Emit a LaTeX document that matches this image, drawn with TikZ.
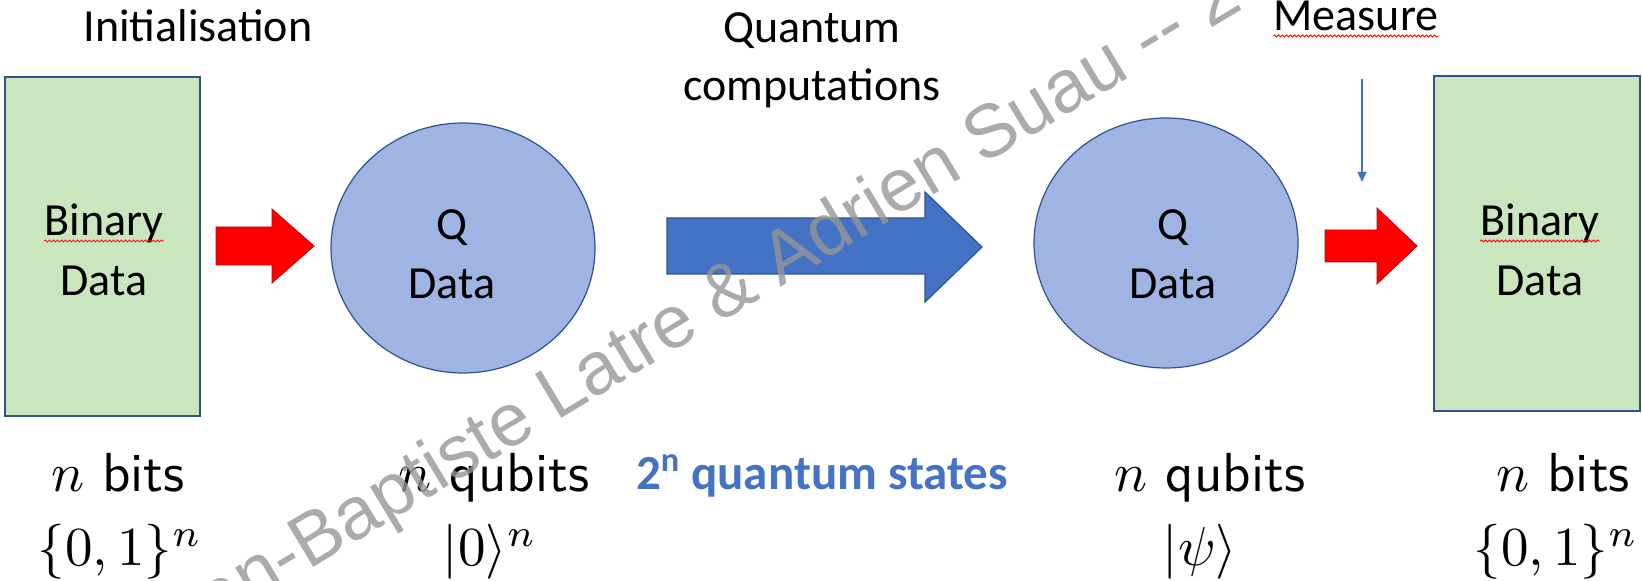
\documentclass[tikz,border=0pt]{standalone}
\usepackage{fontspec}
\newfontfamily\calfont{Carlito}
\newfontfamily\wmfont{Liberation Sans}
\usetikzlibrary{shapes.geometric,arrows.meta,decorations.pathmorphing}
\definecolor{gfill}{HTML}{C9E6BE}
\definecolor{edgeblue}{HTML}{2F528F}
\definecolor{cfill}{HTML}{9FB4E3}
\definecolor{officeblue}{HTML}{4472C4}
\definecolor{wmgray}{HTML}{969696}
\begin{document}
\begin{tikzpicture}[x=0.5pt,y=-0.5pt,
  gbox/.style={draw=edgeblue, fill=gfill, line width=0.6pt, rectangle, inner sep=0},
  qcirc/.style={draw=edgeblue, fill=cfill, line width=0.6pt, ellipse, inner sep=0, minimum width=132pt, minimum height=125pt},
  caltext/.style={font=\calfont\fontsize{23}{28}\selectfont, anchor=base, inner sep=0},
  bluelabel/.style={font=\calfont\bfseries\fontsize{24.5}{29}\selectfont, text=officeblue, anchor=base, inner sep=0},
  lmtext/.style={font=\sffamily, scale=2.75, anchor=base, inner sep=0},
  redarrow/.style={fill=red, draw=red!75!black, line width=0.4pt},
  bluearrow/.style={fill=officeblue, draw=edgeblue, line width=0.6pt},
  measarrow/.style={draw=officeblue, line width=0.6pt, -{Triangle[length=5pt,width=4.5pt]}},
  squig/.style={draw=red, line width=0.4pt, decorate, decoration={snake, amplitude=0.5pt, segment length=2pt}},
  wm/.style={font=\wmfont\fontsize{37.25}{42}\selectfont, text=wmgray, opacity=0.8, rotate=31, anchor=base west, inner sep=0}
]
\useasboundingbox (0,0) rectangle (1642,581);
\clip (0,0) rectangle (1642,581);

% left binary box
\node[gbox, minimum width=97.5pt, minimum height=169.5pt] (bin1) at (102.5,246.5) {};
\node[caltext] (b1a) at (104,236) {Binary};
\node[caltext] (b1b) at (104,296) {Data};
\draw[squig] ([yshift=-2.5pt]b1a.base west) -- ([yshift=-2.5pt]b1a.base east);
\node[caltext] (init) at (198,42) {Initialisation};

% red arrow 1
\draw[redarrow] (216,227) -- (272,227) -- (272,209) -- (314,246) -- (272,283) -- (272,265) -- (216,265) -- cycle;

% left Q circle
\node[qcirc] (q1) at (463,248) {};
\node[caltext] (q1a) at (452,240) {Q};
\node[caltext] (q1b) at (452,299) {Data};

% quantum computations
\node[caltext] (qc1) at (812,43) {Quantum};
\node[caltext] (qc2) at (812,101) {computations};
\draw[bluearrow] (667,218) -- (925,218) -- (925,192) -- (982,247) -- (925,302) -- (925,274) -- (667,274) -- cycle;

% right Q circle
\node[qcirc] (q2) at (1166,243) {};
\node[caltext] (q2a) at (1173,240) {Q};
\node[caltext] (q2b) at (1173,299) {Data};

% measure
\node[caltext] (meas) at (1356,31) {Measure};
\draw[squig] ([yshift=-2.5pt]meas.base west) -- ([yshift=-2.5pt]meas.base east);
\coordinate (mtop) at (1362,79);
\coordinate (mtip) at (1362,182);
\draw[measarrow] (mtop) -- (mtip);

% red arrow 2
\draw[redarrow] (1325,230) -- (1377,230) -- (1377,208) -- (1417,246) -- (1377,284) -- (1377,262) -- (1325,262) -- cycle;

% right binary box
\node[gbox, minimum width=103pt, minimum height=167.5pt] (bin2) at (1537,243.5) {};
\node[caltext] (b2a) at (1540,236) {Binary};
\node[caltext] (b2b) at (1540,296) {Data};
\draw[squig] ([yshift=-2.5pt]b2a.base west) -- ([yshift=-2.5pt]b2a.base east);

% bottom labels
\node[lmtext] (nb1) at (118,492) {$n$ bits};
\node[lmtext] (s1) at (120,566) {$\{0,1\}^n$};
\node[lmtext] (nq1) at (494,492) {$n$ qubits};
\node[lmtext] (k0) at (490,566) {$|0\rangle^n$};
\node[bluelabel] (qs) at (822,490) {2\textsuperscript{n} quantum states};
\node[lmtext] (nq2) at (1210,492) {$n$ qubits};
\node[lmtext] (psi) at (1200,566) {$|\psi\rangle$};
\node[lmtext] (nb2) at (1563,492) {$n$ bits};
\node[lmtext] (s2) at (1556,566) {$\{0,1\}^n$};

% watermark
\node[wm] (wmk) at (148,667) {Jean-Baptiste Latre \& Adrien Suau -{}- 2};
\end{tikzpicture}
\end{document}
